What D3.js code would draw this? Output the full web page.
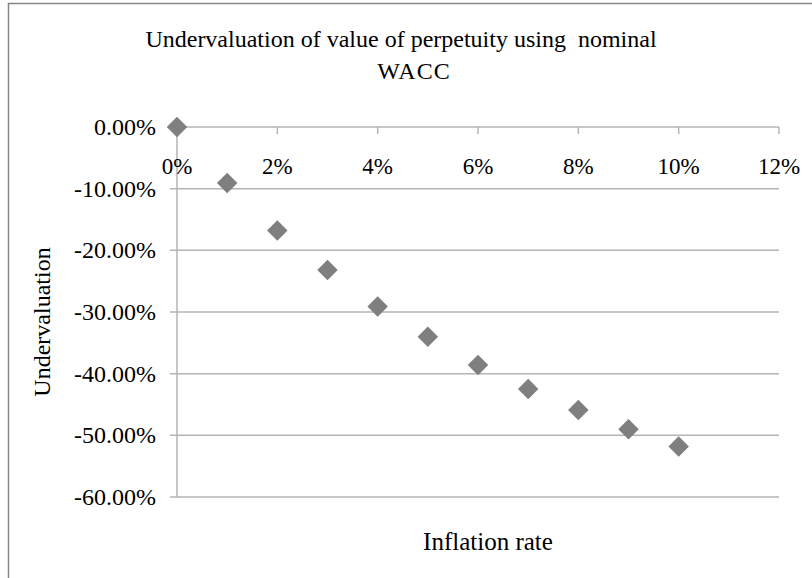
<!DOCTYPE html>
<html>
<head>
<meta charset="utf-8">
<script src="https://cdn.jsdelivr.net/npm/d3@7"></script>
<style>
  body { margin: 0; background: #fff; }
  text { font-family: "Liberation Serif", "Times New Roman", serif; fill: #000; white-space: pre; }
</style>
</head>
<body>
<div id="container"></div>
<script>
let w = 812;
let h = 578;

// data
let inflation = [0, 0.01, 0.02, 0.03, 0.04, 0.05, 0.06, 0.07, 0.08, 0.09, 0.10];
let undervaluation = [0, -0.091, -0.168, -0.232, -0.291, -0.340, -0.386, -0.425, -0.459, -0.490, -0.518];
let xTicks = [0, 0.02, 0.04, 0.06, 0.08, 0.10, 0.12];
let yTicks = [0, -0.1, -0.2, -0.3, -0.4, -0.5, -0.6];
let titleLines = ["Undervaluation of value of perpetuity using  nominal", "WACC"];

let plotLeft = 177, plotRight = 779, plotTop = 127, plotBottom = 497;
let serif = "'Liberation Serif', 'Times New Roman', serif";

let viz = d3.select("#container").append("svg")
  .attr("width", w)
  .attr("height", h);

// chart frame (cropped on right and bottom)
viz.append("rect")
  .attr("x", 8.5).attr("y", 3.5)
  .attr("width", 900).attr("height", 700)
  .attr("fill", "#fff")
  .attr("stroke", "#868686")
  .attr("stroke-width", 1.5);

let x = d3.scaleLinear().domain([0, 0.12]).range([plotLeft, plotRight]);
let y = d3.scaleLinear().domain([0, -0.6]).range([plotTop, plotBottom]);

// horizontal gridlines
viz.append("g").selectAll("line").data(yTicks).enter()
  .append("line")
  .attr("x1", plotLeft - 7).attr("x2", plotRight)
  .attr("y1", d => y(d)).attr("y2", d => y(d))
  .attr("stroke", "#b4b4b4").attr("stroke-width", 1.5);

// vertical axis line
viz.append("line")
  .attr("x1", x(0)).attr("x2", x(0))
  .attr("y1", plotTop).attr("y2", plotBottom)
  .attr("stroke", "#b4b4b4").attr("stroke-width", 1.5);

// x ticks hang below the 0 line
viz.append("g").selectAll("line").data(xTicks).enter()
  .append("line")
  .attr("x1", d => x(d)).attr("x2", d => x(d))
  .attr("y1", y(0)).attr("y2", y(0) + 7)
  .attr("stroke", "#b4b4b4").attr("stroke-width", 1.5);

let pct0 = d3.format(".0%");
let pct2 = d3.format(".2%");

viz.append("g").selectAll("text").data(xTicks).enter()
  .append("text")
  .attr("x", d => x(d)).attr("y", 174)
  .attr("text-anchor", "middle")
  .attr("font-family", serif)
  .attr("font-size", 23)
  .text(d => pct0(d));

viz.append("g").selectAll("text").data(yTicks).enter()
  .append("text")
  .attr("x", 156).attr("y", d => y(d) + 8)
  .attr("text-anchor", "end")
  .attr("font-family", serif)
  .attr("font-size", 24)
  .text(d => pct2(d).replace("−", "-"));

// points
viz.append("g").selectAll("path").data(inflation).enter()
  .append("path")
  .attr("d", d3.symbol().type(d3.symbolSquare).size(210))
  .attr("transform", (d, i) => "translate(" + x(d) + "," + y(undervaluation[i]) + ") rotate(45)")
  .attr("fill", "#7f7f7f");

// titles
viz.append("text")
  .attr("x", 401).attr("y", 47)
  .attr("text-anchor", "middle")
  .attr("font-family", serif)
  .attr("font-size", 24)
  .text(titleLines[0]);
viz.append("text")
  .attr("x", 414).attr("y", 79)
  .attr("text-anchor", "middle")
  .attr("font-family", serif)
  .attr("font-size", 24)
  .attr("letter-spacing", 1)
  .text(titleLines[1]);

viz.append("text")
  .attr("x", 488).attr("y", 550)
  .attr("text-anchor", "middle")
  .attr("font-family", serif)
  .attr("font-size", 25)
  .text("Inflation rate");

viz.append("text")
  .attr("transform", "translate(50,322) rotate(-90)")
  .attr("text-anchor", "middle")
  .attr("font-family", serif)
  .attr("font-size", 24)
  .text("Undervaluation");
</script>
</body>
</html>
